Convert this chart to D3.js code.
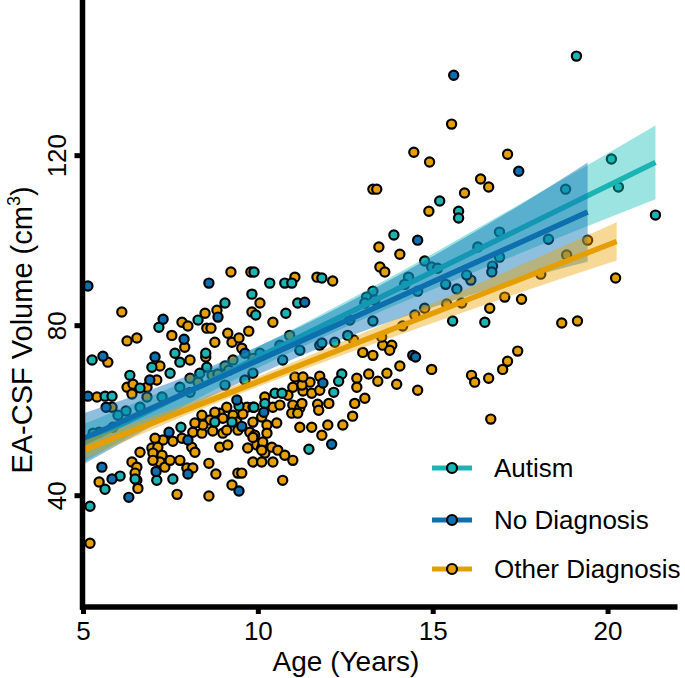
<!DOCTYPE html>
<html><head><meta charset="utf-8">
<script src="https://cdn.jsdelivr.net/npm/d3@7"></script>
<style>body{margin:0;background:#fff}svg{display:block}text{font-family:"Liberation Sans",Arial,sans-serif;fill:#000}</style>
</head><body>
<svg id="chart" width="685" height="678"></svg>
<script>
// [age (years), EA-CSF volume (cm3)]
const autismPoints = [[9.89,92.5],[10.34,89.9],[9.83,87.3],[9.06,85.2],[8.29,81.2],[7.17,79.5],[5.26,71.8],[7.63,73.4],[7.77,71.3],[6.97,70.1],[8.51,73.4],[7.49,68.7],[8.54,70.1],[6.34,68.2],[6.63,65.2],[8.34,68.7],[5.63,63.3],[5.83,63.3],[9.46,61.0],[10.20,61.6],[10.49,64.0],[8.77,57.2],[9.26,57.2],[7.80,56.0],[7.11,43.5],[6.49,43.8],[6.06,44.5],[5.63,41.4],[7.57,43.8],[5.20,37.4],[9.94,82.4],[10.77,89.9],[10.97,89.9],[11.14,85.2],[10.80,82.8],[11.83,91.1],[14.77,95.1],[10.69,64.0],[9.89,60.7],[11.46,50.8],[15.20,109.2],[15.74,106.8],[15.74,105.2],[13.89,101.2],[18.80,112.0],[20.11,119.1],[20.31,112.5],[18.31,100.2],[16.91,101.9],[16.29,98.4],[16.91,96.0],[16.71,93.9],[16.69,92.5],[16.49,80.7],[15.57,81.0],[15.97,91.8],[15.69,88.5],[15.37,89.6],[14.97,93.7],[15.14,93.4],[14.31,91.3],[14.20,89.6],[14.57,88.0],[13.29,88.0],[13.11,86.6],[13.06,85.2],[13.34,85.9],[13.29,81.0],[12.20,76.0],[12.40,68.5],[12.31,66.8],[12.17,64.2],[19.11,143.3],[21.37,105.9],[5.46,54.8],[6.23,59.8],[6.63,60.7],[7.26,63.1],[6.00,58.8],[8.06,64.2],[9.06,65.9],[9.63,67.1],[11.20,74.1],[11.77,75.3],[12.57,77.6],[5.29,54.6],[7.77,65.4],[9.86,68.7],[10.71,71.8],[11.83,75.8],[10.06,73.4]];
const noDiagnosisPoints = [[5.14,89.2],[8.60,89.9],[8.86,81.9],[7.29,81.4],[7.89,76.7],[5.57,72.7],[7.06,72.5],[5.14,63.3],[5.66,60.7],[7.46,54.8],[8.00,53.0],[9.54,56.2],[7.09,45.6],[5.54,46.6],[5.83,43.8],[6.31,39.5],[8.00,45.0],[9.46,41.0],[11.34,85.4],[11.86,66.4],[10.17,59.5],[12.11,52.0],[15.60,138.8],[17.46,116.2],[14.57,100.0],[14.43,72.9],[14.51,72.5],[9.63,73.4],[9.40,62.4],[6.91,67.1],[10.63,75.3],[12.63,81.2]];
const otherDiagnosisPoints = [[6.11,83.1],[9.23,92.5],[9.80,92.5],[10.06,85.2],[8.83,83.5],[8.49,82.8],[7.83,80.7],[8.00,79.8],[8.54,79.3],[8.66,79.3],[9.83,83.1],[10.43,80.7],[9.74,78.6],[9.14,78.1],[9.26,76.0],[9.46,77.0],[9.54,74.6],[8.77,76.0],[7.54,77.6],[7.91,74.8],[6.26,76.3],[6.54,77.0],[5.71,71.3],[7.20,70.4],[8.06,71.8],[8.51,72.5],[9.06,70.4],[9.17,69.4],[6.26,65.4],[6.43,66.1],[6.40,63.8],[6.83,65.4],[7.11,67.1],[8.06,67.5],[8.29,66.6],[8.69,68.2],[8.86,68.5],[5.40,63.1],[5.83,60.7],[9.11,60.7],[8.91,59.3],[9.69,60.7],[9.86,60.7],[10.43,60.7],[10.20,63.1],[8.40,58.8],[8.63,57.7],[8.77,59.5],[9.00,58.1],[9.29,58.8],[9.40,57.2],[9.57,59.1],[9.86,57.2],[10.11,58.4],[10.26,56.5],[10.54,57.0],[7.29,53.0],[7.57,52.7],[7.83,53.4],[8.14,54.8],[8.40,54.6],[8.43,56.5],[8.20,57.0],[8.71,55.1],[9.00,54.6],[9.11,55.3],[9.43,55.3],[9.77,54.8],[9.91,54.1],[10.26,54.6],[6.63,50.1],[6.97,51.1],[7.14,51.3],[8.11,51.3],[8.20,50.1],[8.91,51.3],[9.14,51.8],[9.71,51.1],[9.97,51.8],[10.20,49.9],[10.40,51.3],[7.06,53.4],[7.00,49.9],[7.26,49.4],[7.20,47.8],[7.00,48.2],[7.34,46.6],[7.49,48.2],[7.77,48.2],[6.40,47.8],[6.54,46.6],[6.49,45.2],[6.54,43.5],[6.57,41.6],[5.46,43.1],[7.69,40.2],[7.97,46.4],[8.14,46.4],[8.60,47.5],[8.60,39.8],[8.80,45.0],[9.43,45.2],[9.54,45.2],[9.26,42.4],[10.11,51.1],[9.86,47.8],[10.11,47.8],[10.43,47.8],[5.20,28.7],[11.06,91.3],[11.69,91.3],[12.14,90.4],[13.49,93.7],[13.63,92.5],[14.06,96.7],[13.00,73.6],[13.29,72.9],[13.57,75.3],[13.83,75.3],[13.77,74.1],[14.06,70.4],[14.97,69.6],[13.17,68.5],[13.43,66.8],[13.69,68.7],[13.97,66.1],[12.83,67.5],[12.83,65.4],[13.06,62.8],[12.77,61.6],[12.71,58.6],[14.57,64.7],[12.43,56.5],[12.00,56.5],[11.83,54.1],[11.54,56.0],[11.20,56.0],[12.03,61.6],[11.71,61.4],[11.74,60.0],[11.29,64.5],[11.54,64.0],[11.77,64.7],[11.77,68.0],[11.49,66.6],[11.26,65.9],[11.00,65.4],[11.06,67.8],[11.29,67.8],[10.86,63.5],[10.63,61.2],[11.00,61.2],[10.97,59.3],[11.20,60.5],[11.26,61.6],[11.14,59.3],[9.86,53.6],[10.14,52.5],[10.11,50.6],[10.57,50.6],[10.77,49.4],[11.00,48.2],[10.71,43.5],[14.46,120.7],[14.91,118.4],[17.14,120.2],[13.29,112.0],[13.40,112.0],[16.37,114.4],[16.60,112.5],[15.91,111.1],[14.89,106.8],[13.46,98.4],[15.54,127.3],[20.23,91.1],[19.43,100.0],[18.83,96.5],[18.09,92.0],[17.06,86.6],[17.54,86.1],[18.69,80.5],[19.14,81.0],[16.63,84.0],[14.77,84.0],[14.49,82.4],[15.40,85.0],[15.83,85.2],[14.14,79.8],[12.74,76.5],[17.43,73.9],[17.14,71.5],[17.00,69.6],[16.11,68.2],[16.20,66.6],[16.60,67.5],[16.66,57.9],[16.09,90.6],[5.86,56.0],[6.83,63.1],[9.29,71.8],[10.91,77.6],[9.86,72.2],[13.54,77.2]];

// regression fits [age, volume] and confidence bands [age, lower, upper]
const autismFit = [[5,52.2],[21.37,118.3]];
const noDiagnosisFit = [[5,53.2],[19.43,106.6]];
const otherDiagnosisFit = [[5,50.6],[20.26,99.7]];
const autismBand = [[5,47.7,56.7],[7.5,59.3,65.3],[10,69.9,74.9],[12.5,79.5,85.5],[15,88.4,96.8],[17.5,96.9,108.5],[21.37,109.6,127.0]];
const noDiagnosisBand = [[5,47.2,59.2],[7.5,58.5,66.5],[10,68.4,75.0],[12.5,77.0,85.0],[15,84.2,96.2],[17.5,90.7,108.3],[19.43,94.9,118.3]];
const otherDiagnosisBand = [[5,48.4,52.8],[7.5,57.3,60.1],[10,65.5,67.9],[12.5,73.2,76.4],[15,80.5,85.1],[17.5,87.7,94.1],[20.26,95.2,104.2]];

const xTicks = [5,10,15,20];
const yTicks = [40,80,120];
const seriesNames = ["Autism","No Diagnosis","Other Diagnosis"];

const FONT = '"Liberation Sans",Arial,sans-serif';
const svg = d3.select("#chart");
const x = d3.scaleLinear().domain([5,22]).range([83,677.5]);
const y = d3.scaleLinear().domain([13.7,156.5]).range([607,0]);

const series = [
  {name:seriesNames[0], pts:autismPoints, fit:autismFit, band:autismBand, color:"#1ab5b3", band_c:"#14bfb8", op:0.42},
  {name:seriesNames[1], pts:noDiagnosisPoints, fit:noDiagnosisFit, band:noDiagnosisBand, color:"#0d6fae", band_c:"#0b74b6", op:0.46},
  {name:seriesNames[2], pts:otherDiagnosisPoints, fit:otherDiagnosisFit, band:otherDiagnosisBand, color:"#e69f00", band_c:"#eba300", op:0.42}
];

// points
const ptsG = svg.append("g");
[series[2], series[0], series[1]].forEach(s => {
  ptsG.selectAll(null).data(s.pts).enter().append("circle")
    .attr("cx", d => x(d[0])).attr("cy", d => y(d[1])).attr("r", 4.6)
    .attr("fill", s.color).attr("stroke", "#000").attr("stroke-width", 2.2);
});

// bands + lines
const area = d3.area().x(d => x(d[0])).y0(d => y(d[1])).y1(d => y(d[2])).curve(d3.curveMonotoneX);
const line = d3.line().x(d => x(d[0])).y(d => y(d[1]));
series.forEach(s => {
  svg.append("path").attr("d", area(s.band)).attr("fill", s.band_c).attr("fill-opacity", s.op);
  svg.append("path").attr("d", line(s.fit)).attr("fill", "none").attr("stroke", s.color).attr("stroke-width", 5.5);
});

// axes
const gx = svg.append("g").attr("transform", "translate(0,607)")
  .call(d3.axisBottom(x).tickValues(xTicks).tickSize(7).tickSizeOuter(0).tickFormat(d3.format("d")));
gx.select(".domain").remove();
gx.selectAll(".tick line").attr("stroke", "#000").attr("stroke-width", 5);
gx.selectAll(".tick text").attr("y", 33).attr("dy", 0).attr("fill", "#000").style("font-size", "26px").style("font-family", FONT);
svg.append("line").attr("x1", 80).attr("x2", 677.5).attr("y1", 607).attr("y2", 607).attr("stroke", "#000").attr("stroke-width", 5.5);

const gy = svg.append("g").attr("transform", "translate(82.5,0)")
  .call(d3.axisLeft(y).tickValues(yTicks).tickSize(8).tickSizeOuter(0));
gy.select(".domain").remove();
gy.selectAll(".tick line").attr("stroke", "#000").attr("stroke-width", 5);
gy.selectAll(".tick text").attr("x", 0).attr("y", -17).attr("dy", 0).attr("text-anchor", "middle").attr("fill", "#000")
  .attr("transform", "rotate(-90)").style("font-size", "26px").style("font-family", FONT);
svg.append("line").attr("x1", 82.5).attr("x2", 82.5).attr("y1", 0).attr("y2", 609.75).attr("stroke", "#000").attr("stroke-width", 5.5);

// titles
svg.append("text").attr("x", 346).attr("y", 671).attr("text-anchor", "middle").style("font-size", "28px").text("Age (Years)");
const yt = svg.append("text").attr("transform", "translate(32,330) rotate(-90)").attr("text-anchor", "middle").style("font-size", "29px");
yt.append("tspan").text("EA-CSF Volume (cm");
yt.append("tspan").attr("dy", -12).style("font-size", "18px").text("3");
yt.append("tspan").attr("dy", 12).text(")");

// legend
const legY = [468, 520, 569];
series.forEach((s, i) => {
  const g = svg.append("g").attr("transform", `translate(0,${legY[i]})`);
  g.append("line").attr("x1", 432).attr("x2", 472).attr("y1", 0).attr("y2", 0).attr("stroke", s.color).attr("stroke-width", 5);
  g.append("circle").attr("cx", 452).attr("cy", 0).attr("r", 5).attr("fill", s.color).attr("stroke", "#000").attr("stroke-width", 2.2);
  g.append("text").attr("x", 494).attr("y", 9).style("font-size", "26px").text(s.name);
});
</script>
</body></html>
